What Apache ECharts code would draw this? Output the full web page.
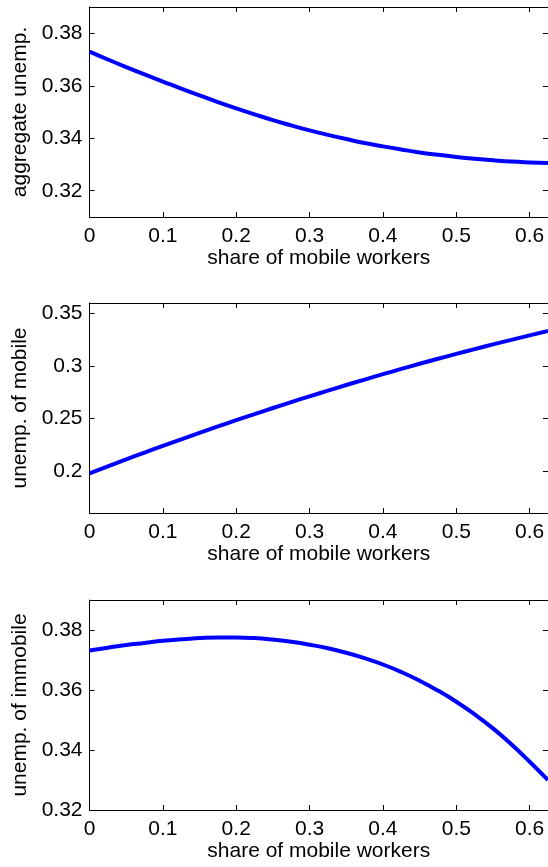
<!DOCTYPE html>
<html>
<head>
<meta charset="utf-8">
<script src="https://cdn.jsdelivr.net/npm/echarts@6/dist/echarts.min.js"></script>
<style>
  html, body { margin: 0; padding: 0; background: #fff; }
  #chart { width: 548px; height: 867px; }
</style>
</head>
<body>
<div id="chart"></div>
<script>
// Share of mobile workers (x axis, shared by all three panels)
const shareMobile = [0, 0.025, 0.05, 0.075, 0.1, 0.125, 0.15, 0.175, 0.2, 0.225, 0.25, 0.275, 0.3,
  0.325, 0.35, 0.375, 0.4, 0.425, 0.45, 0.475, 0.5, 0.525, 0.55, 0.575, 0.6, 0.625];

// Aggregate unemployment
const aggregateUnemp = [0.3730, 0.3700, 0.3671, 0.3643, 0.3616, 0.3589, 0.3563, 0.3538, 0.3514, 0.3491,
  0.3469, 0.3449, 0.3430, 0.3413, 0.3397, 0.3382, 0.3369, 0.3357, 0.3346, 0.3337, 0.3329, 0.3322,
  0.3316, 0.3311, 0.3308, 0.3306];

// Unemployment of mobile workers
const mobileUnemp = [0.1978, 0.2045, 0.2111, 0.2176, 0.2240, 0.2302, 0.2364, 0.2424, 0.2484, 0.2542,
  0.2600, 0.2656, 0.2711, 0.2765, 0.2819, 0.2871, 0.2922, 0.2972, 0.3021, 0.3069, 0.3115, 0.3161,
  0.3206, 0.3249, 0.3292, 0.3333];

// Unemployment of immobile workers
const immobileUnemp = [0.3732, 0.3741, 0.3750, 0.3757, 0.3764, 0.3769, 0.3773, 0.3775, 0.3775, 0.3773,
  0.3768, 0.3761, 0.3751, 0.3739, 0.3724, 0.3706, 0.3685, 0.3660, 0.3631, 0.3598, 0.3561, 0.3519,
  0.3472, 0.3419, 0.3361, 0.3300];

// Tick labels
const xTicks = [0, 0.1, 0.2, 0.3, 0.4, 0.5, 0.6];
const yTicksAggregate = [0.32, 0.34, 0.36, 0.38];
const yTicksMobile = [0.2, 0.25, 0.3, 0.35];
const yTicksImmobile = [0.32, 0.34, 0.36, 0.38];

const xName = 'share of mobile workers';
const panelNames = ['aggregate unemp.', 'unemp. of mobile', 'unemp. of immobile'];
const panelRanges = [[0.31, 0.39], [0.16, 0.36], [0.32, 0.39]];
const panelTicks = [yTicksAggregate, yTicksMobile, yTicksImmobile];
const panelData = [aggregateUnemp, mobileUnemp, immobileUnemp];

const FONT = 'Liberation Sans, Arial, Helvetica, sans-serif';
const FS = 21;
const tops = [7, 303, 600];

const grids = [], xAxes = [], yAxes = [], series = [];
const lineStyle = { color: '#000', width: 1 };

tops.forEach((top, i) => {
  grids.push({ left: 89.5, top: top, width: 460, height: 210 });
  // bottom x axis with labels
  xAxes.push({
    type: 'value', gridIndex: i, position: 'bottom', min: 0, max: 0.625,
    name: xName, nameLocation: 'middle', nameGap: 29,
    nameTextStyle: { fontFamily: FONT, fontSize: FS, color: '#000' },
    axisLine: { show: true, lineStyle: lineStyle },
    axisTick: { show: true, inside: true, length: 5, customValues: xTicks, lineStyle: lineStyle },
    axisLabel: { show: true, customValues: xTicks, margin: 9, fontFamily: FONT, fontSize: FS, color: '#000' },
    splitLine: { show: false }
  });
  // top x axis: box edge and mirrored ticks
  xAxes.push({
    type: 'value', gridIndex: i, position: 'top', min: 0, max: 0.625,
    axisLine: { show: true, onZero: false, lineStyle: lineStyle },
    axisTick: { show: true, inside: true, length: 5, customValues: xTicks, lineStyle: lineStyle },
    axisLabel: { show: false },
    splitLine: { show: false }
  });
  const [ymin, ymax] = panelRanges[i];
  yAxes.push({
    type: 'value', gridIndex: i, position: 'left', min: ymin, max: ymax,
    name: panelNames[i], nameLocation: 'middle', nameGap: 52,
    nameTextStyle: { fontFamily: FONT, fontSize: FS, color: '#000' },
    axisLine: { show: true, onZero: false, lineStyle: lineStyle },
    axisTick: { show: true, inside: true, length: 5, customValues: panelTicks[i], lineStyle: lineStyle },
    axisLabel: { show: true, customValues: panelTicks[i], margin: 7, fontFamily: FONT, fontSize: FS, color: '#000' },
    splitLine: { show: false }
  });
  // right y axis: box edge and mirrored ticks
  yAxes.push({
    type: 'value', gridIndex: i, position: 'right', min: ymin, max: ymax,
    axisLine: { show: true, onZero: false, lineStyle: lineStyle },
    axisTick: { show: true, inside: true, length: 5, customValues: panelTicks[i], lineStyle: lineStyle },
    axisLabel: { show: false },
    splitLine: { show: false }
  });
  series.push({
    type: 'line',
    xAxisIndex: i * 2, yAxisIndex: i * 2,
    data: shareMobile.map((x, k) => [x, panelData[i][k]]),
    smooth: true,
    showSymbol: false,
    clip: true,
    lineStyle: { color: '#0000ff', width: 4 },
    silent: true
  });
});

const chart = echarts.init(document.getElementById('chart'), null, { renderer: 'canvas' });
chart.setOption({
  animation: false,
  backgroundColor: '#fff',
  grid: grids,
  xAxis: xAxes,
  yAxis: yAxes,
  series: series
});
</script>
</body>
</html>
